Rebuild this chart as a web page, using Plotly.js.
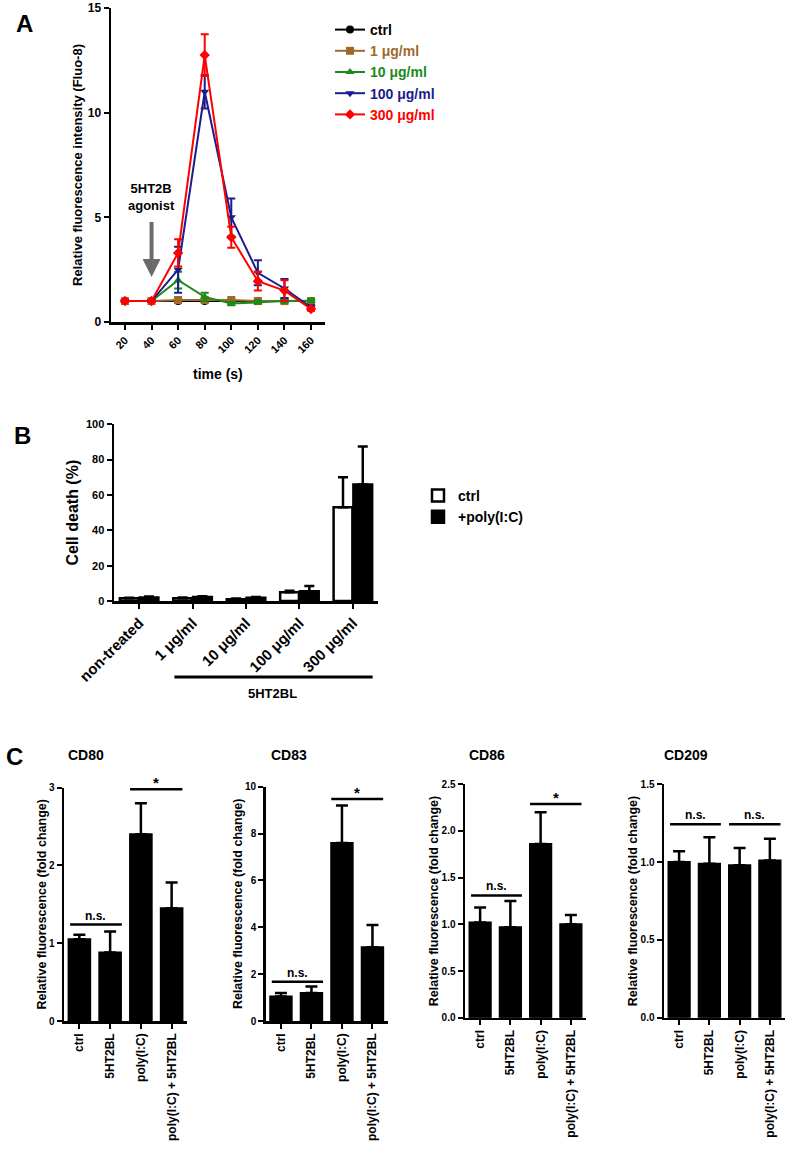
<!DOCTYPE html>
<html>
<head>
<meta charset="utf-8">
<script src="https://cdn.plot.ly/plotly-3.0.1.min.js"></script>
<style>html,body{margin:0;padding:0;background:#fff;}#chart{width:790px;height:1149px;}</style>
</head>
<body>
<div id="chart"></div>
<script>
// ---------- Panel A data ----------
const timeS = [20, 40, 60, 80, 100, 120, 140, 160];
const ctrlA = [1, 1, 1, 1, 1, 1, 1, 1];
const ctrlAErr = [0.05, 0.05, 0.05, 0.05, 0.05, 0.05, 0.05, 0.05];
const dose1 = [1, 1, 1.05, 1.05, 1.05, 1.0, 1.0, 1.0];
const dose1Err = [0.05, 0.05, 0.05, 0.05, 0.05, 0.05, 0.05, 0.05];
const dose10 = [1, 1, 2.0, 1.2, 0.88, 0.95, 1.0, 1.02];
const dose10Err = [0.05, 0.05, 0.4, 0.2, 0.08, 0.08, 0.08, 0.08];
const dose100 = [1, 1, 2.5, 11.0, 5.0, 2.35, 1.6, 0.7];
const dose100Err = [0.05, 0.05, 1.1, 0.8, 0.9, 0.6, 0.45, 0.1];
const dose300 = [1, 1, 3.3, 12.75, 4.05, 1.95, 1.5, 0.62];
const dose300Err = [0.05, 0.05, 0.65, 1.0, 0.5, 0.45, 0.5, 0.08];
const seriesNamesA = ['ctrl', '1 μg/ml', '10 μg/ml', '100 μg/ml', '300 μg/ml'];

// ---------- Panel B data ----------
const bCats = ['non-treated', '1 μg/ml', '10 μg/ml', '100 μg/ml', '300 μg/ml'];
const bCtrl = [1.5, 1.5, 1.0, 5.0, 53];
const bCtrlErr = [0.4, 0.5, 0.4, 0.8, 17];
const bPoly = [2.0, 2.2, 1.8, 5.5, 66];
const bPolyErr = [0.5, 0.5, 0.4, 3.0, 21.5];

// ---------- Panel C data ----------
const cCats = ['ctrl', '5HT2BL', 'poly(I:C)', 'poly(I:C) + 5HT2BL'];
const cd80 = [1.05, 0.88, 2.4, 1.45];
const cd80Err = [0.06, 0.27, 0.4, 0.33];
const cd83 = [1.05, 1.2, 7.6, 3.15];
const cd83Err = [0.15, 0.27, 1.6, 0.95];
const cd86 = [1.02, 0.97, 1.86, 1.0];
const cd86Err = [0.16, 0.28, 0.34, 0.1];
const cd209 = [1.0, 0.99, 0.98, 1.01];
const cd209Err = [0.07, 0.17, 0.11, 0.14];
const cTitles = ['CD80', 'CD83', 'CD86', 'CD209'];
// significance brackets: [y value, label] for (ctrl vs 5HT2BL), (poly vs poly+5HT2BL)
const sig80 = [[1.24, 'n.s.'], [2.98, '*']];
const sig83 = [[1.68, 'n.s.'], [9.47, '*']];
const sig86 = [[1.31, 'n.s.'], [2.29, '*']];
const sig209 = [[1.243, 'n.s.'], [1.243, 'n.s.']];

// ---------- styling ----------
const FONT = 'Arial, "Liberation Sans", sans-serif';
const W = 790, H = 1149;
const px = v => v / W;
const py = v => 1 - v / H;
const colA = ['#000000', '#A0692B', '#1A8A1A', '#1C1C8C', '#FF0000'];
const symA = ['circle', 'square', 'triangle-up', 'triangle-down', 'diamond'];
const yA = [ctrlA, dose1, dose10, dose100, dose300];
const eA = [ctrlAErr, dose1Err, dose10Err, dose100Err, dose300Err];

const traces = [];
for (let i = 0; i < 5; i++) {
  traces.push({
    type: 'scatter', mode: 'lines+markers', x: timeS, y: yA[i],
    name: '<span style="color:' + colA[i] + '">' + seriesNamesA[i] + '</span>',
    line: {color: colA[i], width: 2},
    marker: {color: colA[i], symbol: symA[i], size: 8},
    error_y: {type: 'data', array: eA[i], visible: true, color: colA[i], thickness: 2, width: 4},
    xaxis: 'x', yaxis: 'y', legend: 'legend'
  });
}
traces.push({
  type: 'bar', x: bCats, y: bCtrl, name: 'ctrl', xaxis: 'x2', yaxis: 'y2', legend: 'legend2',
  marker: {color: '#ffffff', line: {color: '#000', width: 2.5}},
  error_y: {type: 'data', symmetric: false, array: bCtrlErr, arrayminus: bCtrl.map(() => 0), color: '#000', thickness: 2.5, width: 5}
});
traces.push({
  type: 'bar', x: bCats, y: bPoly, name: '+poly(I:C)', xaxis: 'x2', yaxis: 'y2', legend: 'legend2',
  marker: {color: '#000000', line: {color: '#000', width: 2.5}},
  error_y: {type: 'data', symmetric: false, array: bPolyErr, arrayminus: bPoly.map(() => 0), color: '#000', thickness: 2.5, width: 5}
});
const cVals = [cd80, cd83, cd86, cd209];
const cErrs = [cd80Err, cd83Err, cd86Err, cd209Err];
const cSig = [sig80, sig83, sig86, sig209];
for (let i = 0; i < 4; i++) {
  traces.push({
    type: 'bar', x: cCats, y: cVals[i], showlegend: false,
    xaxis: 'x' + (i + 3), yaxis: 'y' + (i + 3),
    marker: {color: '#000', line: {color: '#000', width: 2}},
    error_y: {type: 'data', symmetric: false, array: cErrs[i], arrayminus: cVals[i].map(() => 0), color: '#000', thickness: 2.5, width: 6}
  });
}

function axisBase(extra) {
  return Object.assign({
    showline: true, linewidth: 2.5, linecolor: '#000', mirror: false,
    ticks: 'outside', ticklen: 5, tickwidth: 2, tickcolor: '#000',
    showgrid: false, zeroline: false, fixedrange: true,
    tickfont: {family: FONT, size: 11, color: '#000', weight: 'bold'}
  }, extra);
}

const layout = {
  width: W, height: H, margin: {l: 0, r: 0, t: 0, b: 0},
  paper_bgcolor: '#fff', plot_bgcolor: 'rgba(0,0,0,0)',
  font: {family: FONT, color: '#000'},
  barmode: 'group', bargap: 0.26, bargroupgap: 0.05,
  xaxis: axisBase({domain: [px(111), px(325)], range: [9.5, 170.5], tickvals: timeS, tickangle: -45,
    anchor: 'y', tickfont: {family: FONT, size: 11, color: '#000', weight: 'bold'}}),
  yaxis: axisBase({domain: [py(322), py(8)], range: [0, 15], dtick: 5, anchor: 'x',
    tickfont: {family: FONT, size: 12, color: '#000', weight: 'bold'},
    title: {text: 'Relative fluorescence intensity (Fluo-8)', font: {family: FONT, size: 13, weight: 'bold'}, standoff: 2}}),
  xaxis2: axisBase({domain: [px(114), px(378)], range: [-0.47, 4.47], tickangle: -45, anchor: 'y2',
    tickfont: {family: FONT, size: 15, color: '#000', weight: 'bold'}}),
  yaxis2: axisBase({domain: [py(601), py(424.3)], range: [0, 100], dtick: 20, anchor: 'x2',
    tickfont: {family: FONT, size: 11, color: '#000', weight: 'bold'},
    title: {text: 'Cell death (%)', font: {family: FONT, size: 16, weight: 'bold'}, standoff: 4}}),
  legend: {x: px(330), y: py(14), xanchor: 'left', yanchor: 'top', bgcolor: 'rgba(0,0,0,0)',
    font: {family: FONT, size: 14, weight: 'bold'}, tracegroupgap: 0},
  legend2: {x: px(418), y: py(480), xanchor: 'left', yanchor: 'top', bgcolor: 'rgba(0,0,0,0)',
    font: {family: FONT, size: 14, weight: 'bold', color: '#000'}, tracegroupgap: 0},
  shapes: [], annotations: []
};

const cDom = [[64, 187, 787.7, 1021], [265.7, 387.7, 786.7, 1021], [465, 586, 784.3, 1017.7], [664, 785, 784.3, 1017.7]];
const cRange = [[0, 3], [0, 10], [0, 2.5], [0, 1.5]];
const cDtick = [1, 2, 0.5, 0.5];
const cFmt = ['d', 'd', '.1f', '.1f'];
for (let i = 0; i < 4; i++) {
  const n = i + 3, d = cDom[i];
  layout['xaxis' + n] = axisBase({domain: [px(d[0]), px(d[1])], range: [-0.5, 3.5], tickangle: -90, anchor: 'y' + n,
    tickfont: {family: FONT, size: 12, color: '#000', weight: 'bold'}});
  layout['yaxis' + n] = axisBase({domain: [py(d[3]), py(d[2])], range: cRange[i], dtick: cDtick[i], tickformat: cFmt[i], anchor: 'x' + n,
    tickfont: {family: FONT, size: 10, color: '#000', weight: 'bold'},
    title: {text: 'Relative fluorescence (fold change)', font: {family: FONT, size: 12.5, weight: 'bold'}, standoff: 0}});
  layout.annotations.push({xref: 'paper', yref: 'paper', x: px([86, 289, 487, 686][i]), y: py(755), text: cTitles[i],
    showarrow: false, font: {family: FONT, size: 14, weight: 'bold'}, xanchor: 'center', yanchor: 'middle'});
  const spans = [[-0.3, 1.38], [1.65, 3.35]];
  cSig[i].forEach((s, j) => {
    layout.shapes.push({type: 'line', xref: 'x' + n, yref: 'y' + n, x0: spans[j][0], x1: spans[j][1], y0: s[0], y1: s[0],
      line: {color: '#000', width: 2.5}});
    layout.annotations.push({xref: 'x' + n, yref: 'y' + n, x: (spans[j][0] + spans[j][1]) / 2, y: s[0], text: s[1],
      showarrow: false, yanchor: 'bottom', yshift: s[1] === '*' ? -4 : 0, font: {family: FONT, size: s[1] === '*' ? 15 : 12, weight: 'bold'}});
  });
}

// panel letters
[['A', 24, 23], ['B', 22, 435], ['C', 14, 756]].forEach(l => {
  layout.annotations.push({xref: 'paper', yref: 'paper', x: px(l[1]), y: py(l[2]), text: l[0], showarrow: false,
    font: {family: FONT, size: 24, weight: 'bold'}, xanchor: 'center', yanchor: 'middle'});
});

// x title of panel A
layout.annotations.push({xref: 'paper', yref: 'paper', x: px(218), y: py(374), text: 'time (s)', showarrow: false,
  font: {family: FONT, size: 14, weight: 'bold'}, xanchor: 'center', yanchor: 'middle'});

// agonist arrow and label (panel A)
const agonistTime = 40, arrowTail = 4.85, arrowHead = 2.15, agonistLabelY = 5.97;
layout.annotations.push({xref: 'x', yref: 'y', x: agonistTime, y: arrowHead, ax: agonistTime, ay: arrowTail,
  axref: 'x', ayref: 'y', text: '', showarrow: true, arrowhead: 2, arrowsize: 0.9, arrowwidth: 4, arrowcolor: '#6b6b6b'});
layout.annotations.push({xref: 'x', yref: 'y', x: agonistTime, y: agonistLabelY, text: '5HT2B<br>agonist', showarrow: false,
  font: {family: FONT, size: 13, weight: 'bold'}, xanchor: 'center', yanchor: 'middle'});

// bracket under panel B labels
layout.shapes.push({type: 'line', xref: 'x2', yref: 'paper', x0: 0.66, x1: 4.37, y0: py(677), y1: py(677), line: {color: '#000', width: 3}});
layout.annotations.push({xref: 'x2', yref: 'paper', x: 2.5, y: py(693), text: '5HT2BL', showarrow: false,
  font: {family: FONT, size: 13, weight: 'bold'}, xanchor: 'center', yanchor: 'middle'});

Plotly.newPlot('chart', traces, layout, {staticPlot: true, displayModeBar: false});
</script>
</body>
</html>
